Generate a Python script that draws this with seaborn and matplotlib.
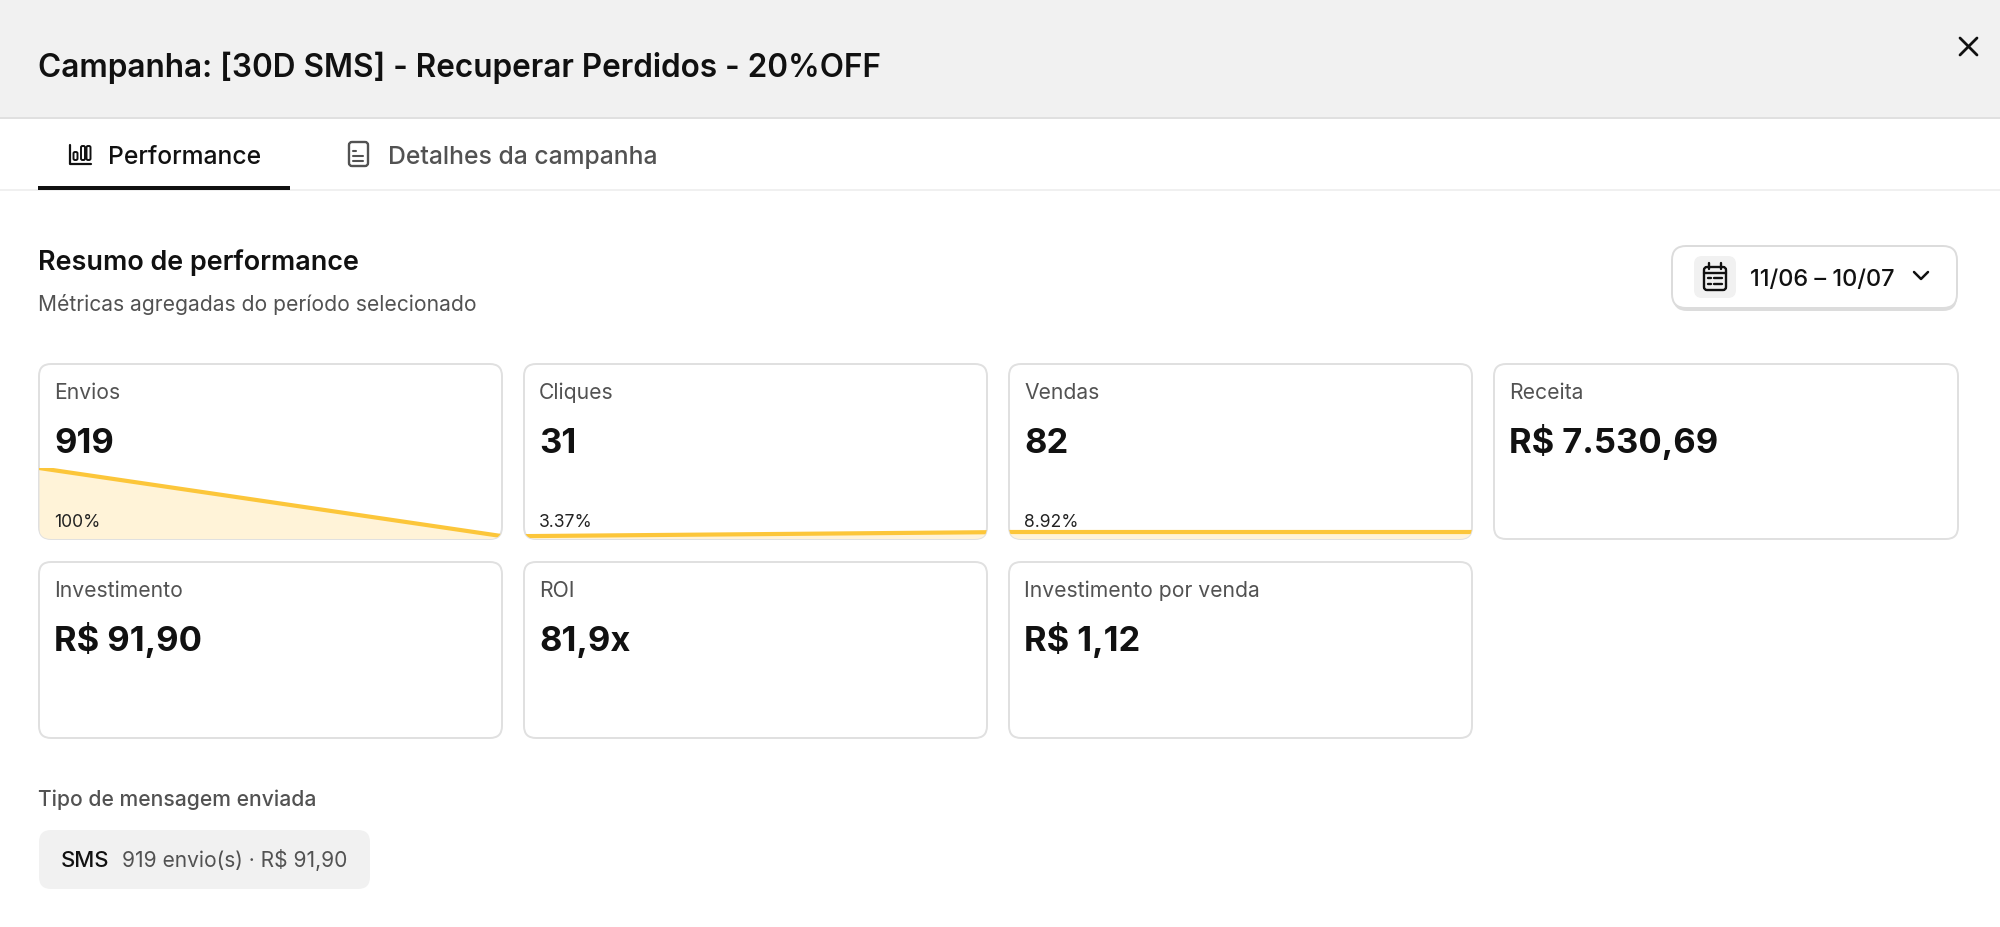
import matplotlib
matplotlib.use("Agg")
import matplotlib.pyplot as plt
from matplotlib.patches import FancyBboxPatch, Rectangle
import pandas as pd
import seaborn as sns

sns.set_theme(style="white")
plt.rcParams['font.family'] = ['Inter', 'DejaVu Sans']

title = "Campanha: [30D SMS] - Recuperar Perdidos - 20%OFF"
tabs = ["Performance", "Detalhes da campanha"]
section_title = "Resumo de performance"
section_sub = "Métricas agregadas do período selecionado"
date_range = "11/06 – 10/07"
row1_labels = ["Envios", "Cliques", "Vendas", "Receita"]
row1_values = ["919", "31", "82", "R$ 7.530,69"]
row2_labels = ["Investimento", "ROI", "Investimento por venda"]
row2_values = ["R$ 91,90", "81,9x", "R$ 1,12"]
funnel_pct_labels = ["100%", "3.37%", "8.92%"]
funnel_start = [100, 3.37, 8.92]
funnel_end = [3.37, 8.92, 8.92]
types_title = "Tipo de mensagem enviada"
chip_name = "SMS"
chip_detail = "919 envio(s) · R$ 91,90"

YELLOW = "#fcc63a"; FILL = "#fff3d8"; DARK = "#111111"; GREY = "#525252"
BORDER = "#e0e0e0"; HEADER = "#f1f1f1"
W, H = 2000, 928

fig = plt.figure(figsize=(W / 100, H / 100), dpi=100, facecolor="white")
bg = fig.add_axes([0, 0, 1, 1])
bg.set_xlim(0, W); bg.set_ylim(H, 0); bg.axis("off")


def rbox(x0, y0, x1, y1, r, fc="white", ec=BORDER, lw=1.4, z=2):
    p = FancyBboxPatch((x0 + r, y0 + r), x1 - x0 - 2 * r, y1 - y0 - 2 * r,
                       boxstyle=f"round,pad={r},rounding_size={r}",
                       fc=fc, ec=ec, lw=lw, zorder=z)
    bg.add_patch(p)
    return p


def txt(x, y, s, size, color=DARK, weight="normal"):
    bg.text(x, y, s, fontsize=size, color=color, fontweight=weight,
            va="baseline", ha="left", zorder=6)


def stroke(xs, ys, color=DARK, lw=1.8):
    bg.plot(xs, ys, color=color, lw=lw, solid_capstyle="round", zorder=6)


# header
bg.add_patch(Rectangle((0, 0), W, 118, fc=HEADER, ec="none", zorder=1))
bg.plot([0, W], [118.5, 118.5], color="#e0e0e0", lw=1.4, zorder=2)
txt(38, 77, title, 22.7, DARK, "semibold")
stroke([1960, 1977], [39, 56], DARK, 2.0)
stroke([1960, 1977], [56, 39], DARK, 2.0)

# tabs
bg.plot([0, W], [191, 191], color="#f0f0f0", lw=1.4, zorder=2)
bg.add_patch(Rectangle((38, 187), 252, 4, fc=DARK, ec="none", zorder=3))
txt(108, 164, tabs[0], 17.8, DARK, "medium")
txt(388, 164, tabs[1], 17.8, GREY, "medium")
# bar icon
stroke([70, 70, 91], [146, 165, 165], DARK, 1.6)
for cx, top_y in [(75.5, 153), (83, 147), (88.5, 147)]:
    rbox(cx - 2, top_y, cx + 2, 161, 1.5, fc="none", ec=DARK, lw=1.4, z=6)
# document icon
rbox(349, 143, 368, 167, 3, fc="none", ec=GREY, lw=1.7, z=6)
for yy, x1 in [(152, 356), (157, 363), (162, 363)]:
    stroke([353, x1], [yy, yy], GREY, 1.5)

# section heading
txt(38, 270, section_title, 19.4, DARK, "semibold")
txt(38, 311, section_sub, 15.15, GREY)

# date button
rbox(1673, 250, 1957, 312, 14, fc="#dcdcdc", ec="none", z=2)
rbox(1672, 247, 1957, 309, 14, fc="white", ec="#dcdcdc", lw=1.4, z=3)
rbox(1694, 257, 1736, 299, 8, fc=HEADER, ec="none", z=4)
rbox(1704, 268, 1726, 291, 3, fc="none", ec=DARK, lw=1.7, z=6)
stroke([1704, 1726], [274, 274], DARK, 1.7)
stroke([1709, 1709], [264, 270], DARK, 1.7)
stroke([1721, 1721], [264, 270], DARK, 1.7)
for yy in (279, 285):
    stroke([1708, 1711], [yy, yy], DARK, 1.7)
    stroke([1714, 1722], [yy, yy], DARK, 1.7)
txt(1750, 286, date_range, 17, DARK, "medium")
stroke([1914, 1921, 1928], [273, 280, 273], DARK, 1.8)

# cards
card_x = [(39, 502), (524, 987), (1009, 1472), (1494, 1958)]
ROW1 = (365, 540)
ROW2 = (563, 739)


def card(col, row, label, value):
    x0, x1 = card_x[col]
    y0, y1 = row
    p = rbox(x0, y0, x1, y1, 12)
    txt(x0 + 15, y0 + 34, label, 15.2, GREY)
    txt(x0 + 15, y0 + 88, value, 24.8, DARK, "bold")
    return p


for i, (lab, val) in enumerate(zip(row1_labels, row1_values)):
    patch = card(i, ROW1, lab, val)
    if i < 3:
        x0, x1 = card_x[i]
        # axes spanning 0..100 % over the card width, with the baseline on the card's lower edge
        top_px, base_px = 469, 539.5
        ax = fig.add_axes([x0 / W, 1 - base_px / H, (x1 - x0) / W, (base_px - top_px) / H])
        ax.patch.set_alpha(0)
        df = pd.DataFrame({"step": [0, 1], "pct": [funnel_start[i], funnel_end[i]]})
        ax.fill_between(df["step"], 0, df["pct"], color=FILL, lw=0)
        sns.lineplot(data=df, x="step", y="pct", ax=ax, color=YELLOW, lw=3.0)
        for art in ax.collections + ax.lines:
            art.set_clip_path(patch)
        ax.set_xlim(0, 1); ax.set_ylim(0, 100)
        ax.axis("off")
        bg.set_zorder(0); ax.set_zorder(1)

# percent labels above the sparklines
top = fig.add_axes([0, 0, 1, 1]); top.set_xlim(0, W); top.set_ylim(H, 0); top.axis("off")
top.patch.set_alpha(0); top.set_zorder(3)
for i, s in enumerate(funnel_pct_labels):
    top.text(card_x[i][0] + 15, 527, s, fontsize=12.6, color="#222222", va="baseline", ha="left")

for i, (lab, val) in enumerate(zip(row2_labels, row2_values)):
    card(i, ROW2, lab, val)

# message type
txt(38, 806, types_title, 15.2, GREY, "medium")
rbox(39, 831, 370, 890, 12, fc=HEADER, ec="none")
txt(61, 867, chip_name, 15.8, DARK, "medium")
txt(122, 867, chip_detail, 15.1, GREY)

fig.savefig("out.png", dpi=100)
